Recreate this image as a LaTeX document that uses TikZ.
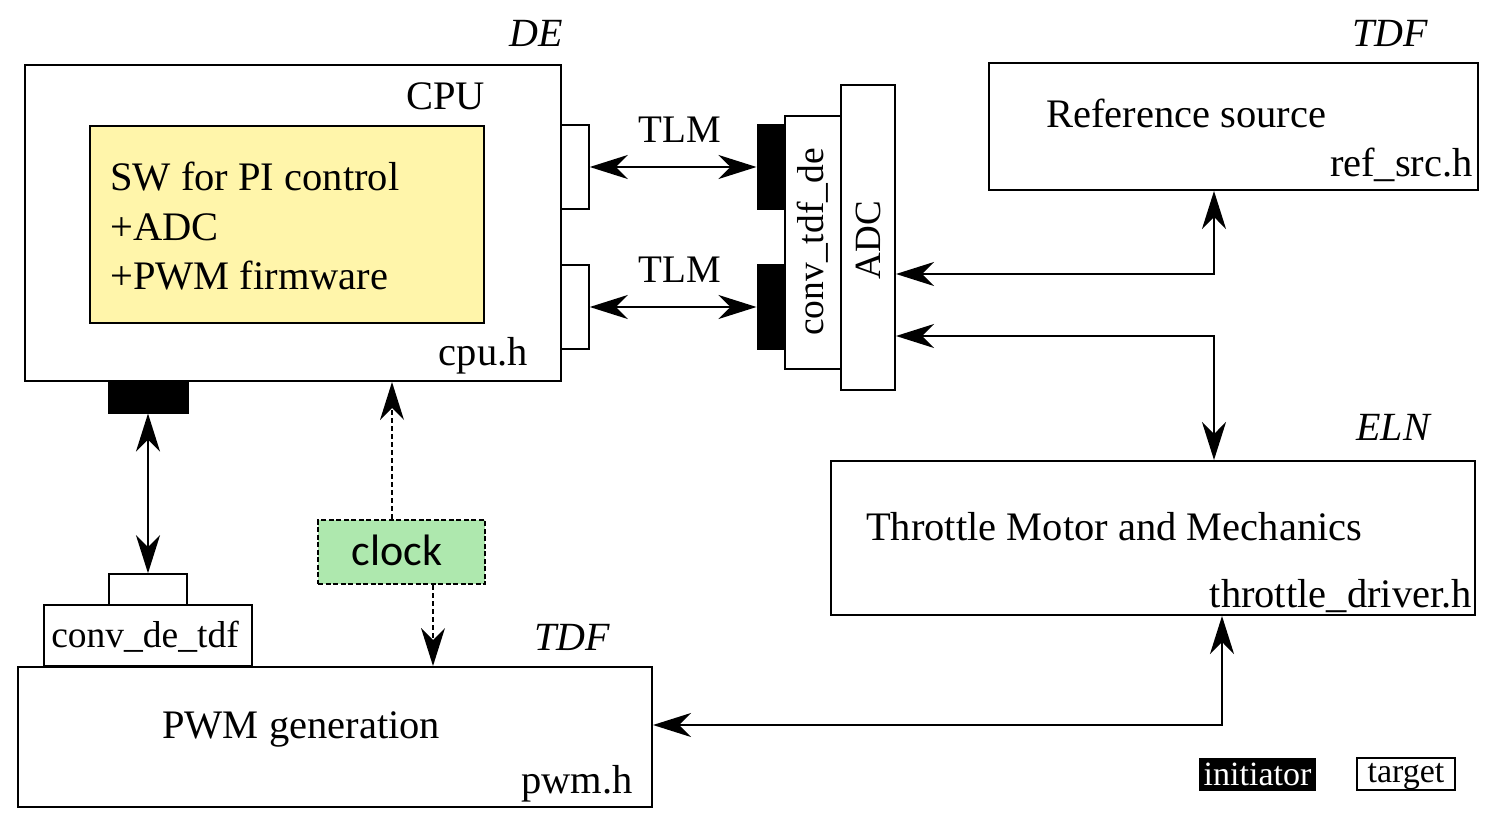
\documentclass[tikz,border=0pt]{standalone}
\usepackage{fontspec}
\setmainfont{Liberation Serif}
\newfontfamily\clockfont{Carlito}
\usetikzlibrary{arrows.meta}
\definecolor{swyellow}{RGB}{255,245,170}
\definecolor{clkgreen}{RGB}{174,232,174}
\tikzset{
  box/.style={draw, line width=2pt, inner sep=0pt, minimum width=#1},
  blk/.style={draw, fill=black, line width=1pt, inner sep=0pt},
  tgt/.style={draw, fill=white, line width=1.5pt, inner sep=0pt},
  big/.style={font=\fontsize{40.5}{48}\selectfont, inner sep=0pt},
  lbl/.style={font=\fontsize{40}{48}\selectfont\itshape, inner sep=0pt},
  biarrow/.style={line width=2pt, {Stealth[length=38pt,width=24pt,inset=12pt]}-{Stealth[length=38pt,width=24pt,inset=12pt]}},
  dasharrow/.style={line width=2.6pt, dash pattern=on 5pt off 3pt, -{Stealth[length=38pt,width=24pt,inset=12pt,line width=0pt]}},
}
\begin{document}
\begin{tikzpicture}[x=1pt,y=-1pt]
\useasboundingbox (0,0) rectangle (1496,826);
% CPU
\node[box=536pt, minimum height=316pt] (cpu) at (293,223) {};
\node[draw, line width=2pt, fill=swyellow, minimum width=394pt, minimum height=197pt, inner sep=0pt] (sw) at (287,224.5) {};
\node[big, anchor=base west] (sw1) at (110,191) {SW for PI control};
\node[big, anchor=base west] (sw2) at (110,241) {+ADC};
\node[big, anchor=base west] (sw3) at (110,290) {+PWM firmware};
\node[big, anchor=base east] (cpul) at (485,110) {CPU};
\node[big, anchor=base east] (cpuh) at (528,365) {cpu.h};
\node[lbl, anchor=base east] (de) at (563,47) {DE};
% ports on CPU
\node[tgt, minimum width=28pt, minimum height=84pt] (t1) at (575,167) {};
\node[tgt, minimum width=28pt, minimum height=84pt] (t2) at (575,307) {};
\node[blk, minimum width=80pt, minimum height=32pt] (icpu) at (148,397) {};
% ADC / conv
\node[box=54pt, minimum height=305pt, fill=white] (adc) at (868,237.5) {};
\node[rotate=90, inner sep=0pt, font=\fontsize{37}{44}\selectfont] (adcl) at (868,240) {ADC};
\node[box=56pt, minimum height=253pt, fill=white] (ctd) at (813,242.5) {};
\node[rotate=90, inner sep=0pt, font=\fontsize{37.5}{44}\selectfont] (ctdl) at (813,242) {conv\_tdf\_de};
\node[blk, minimum width=28pt, minimum height=85pt] (i1) at (771,167) {};
\node[blk, minimum width=28pt, minimum height=85pt] (i2) at (771,307) {};
\draw[biarrow] (t1.east) -- (i1.west);
\draw[biarrow] (t2.east) -- (i2.west);
\node[inner sep=0pt, font=\fontsize{39}{46}\selectfont, anchor=base] (tlm1) at (680,143) {TLM};
\node[inner sep=0pt, font=\fontsize{39}{46}\selectfont, anchor=base] (tlm2) at (680,283) {TLM};
% Reference source
\node[box=489pt, minimum height=127pt] (ref) at (1233.5,126.5) {};
\node[big, anchor=base west] (refl) at (1046,128) {Reference source};
\node[big, anchor=base east] (refh) at (1473,177) {ref\_src.h};
\node[lbl, anchor=base east] (tdf1) at (1428,47) {TDF};
% Throttle
\node[box=644pt, minimum height=154pt] (thr) at (1153,538) {};
\node[big, anchor=base west] (thrl) at (866,540) {Throttle Motor and Mechanics};
\node[big, anchor=base east] (thrh) at (1472,607) {throttle\_driver.h};
\node[lbl, anchor=base east] (eln) at (1430,440) {ELN};
% PWM
\node[box=634pt, minimum height=140pt] (pwm) at (335,737) {};
\node[big, anchor=base west] (pwml) at (162,738) {PWM generation};
\node[big, anchor=base east] (pwmh) at (633,793) {pwm.h};
\node[lbl, anchor=base east] (tdf2) at (610,650) {TDF};
% conv_de_tdf
\node[box=208pt, minimum height=61pt, fill=white] (cdt) at (148,635.5) {};
\node[inner sep=0pt, font=\fontsize{37.5}{44}\selectfont, anchor=base] (cdtl) at (145,647) {conv\_de\_tdf};
\node[tgt, minimum width=78pt, minimum height=31pt] (t3) at (148,589.5) {};
\draw[biarrow] (icpu.south) -- (t3.north);
% clock
\node[draw, line width=2.2pt, dash pattern=on 5pt off 2.5pt, fill=clkgreen, minimum width=167pt, minimum height=64pt, inner sep=0pt] (clk) at (401.5,552) {};
\node[font=\fontsize{44}{52}\clockfont, inner sep=0pt] (clkl) at (397,550) {clock};
\coordinate (k1) at (392,520);
\coordinate (k2) at (433,584);
\draw[dasharrow] (clk.north -| k1) -- (k1 |- cpu.south);
\draw[dasharrow] (clk.south -| k2) -- (k2 |- pwm.north);
% connectors
\coordinate (c1) at (1214,274);
\coordinate (c2) at (1214,336);
\coordinate (c3) at (1222,725);
\draw[biarrow] (adc.east |- c1) -- (c1) -- (c1 |- ref.south);
\draw[biarrow] (adc.east |- c2) -- (c2) -- (c2 |- thr.north);
\draw[biarrow] (pwm.east |- c3) -- (c3) -- (c3 |- thr.south);
% legend
\node[fill=black, minimum width=117pt, minimum height=33pt, inner sep=0pt] (leg1) at (1257.5,774.5) {};
\node[text=white, inner sep=0pt, anchor=base, font=\fontsize{34}{40}\selectfont] (leg1t) at (1257.5,785) {initiator};
\node[draw, line width=2pt, minimum width=98pt, minimum height=32pt, inner sep=0pt] (leg2) at (1406,774) {};
\node[inner sep=0pt, anchor=base, font=\fontsize{34}{40}\selectfont] (leg2t) at (1406,782) {target};
\end{tikzpicture}
\end{document}
